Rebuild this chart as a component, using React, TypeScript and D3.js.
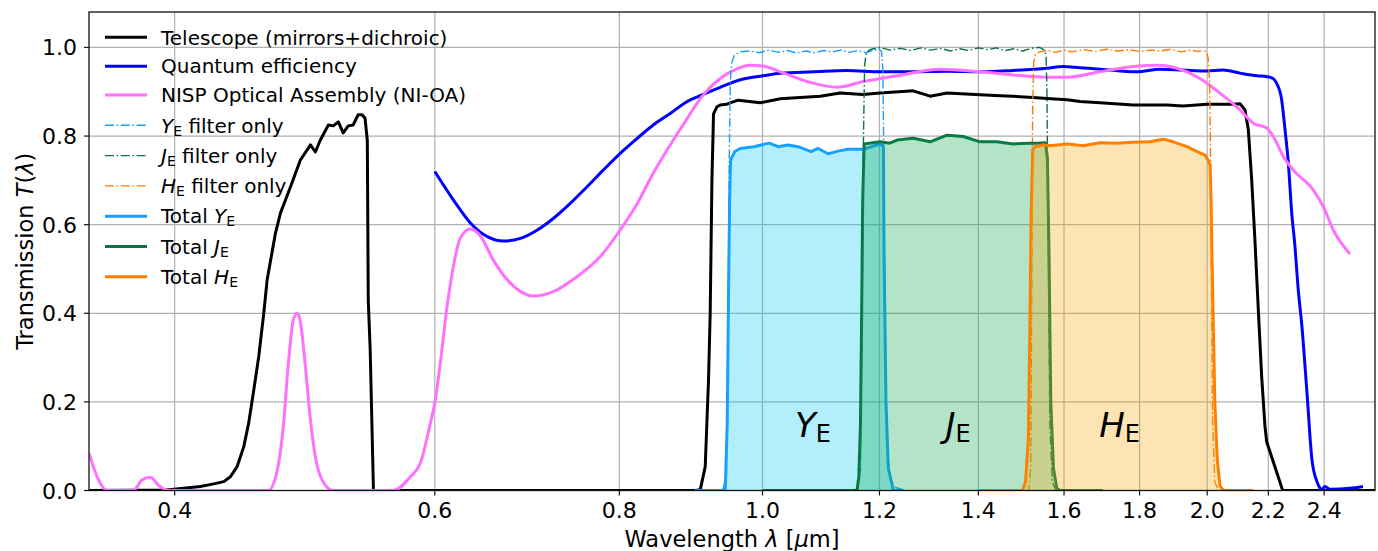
import React from "react";
import * as d3 from "d3";

// ---------- data (wavelength in µm, transmission) ----------
const telescopeLam = [0.35, 0.395, 0.4163, 0.4251, 0.4318, 0.4363, 0.4409, 0.4455, 0.4489, 0.4525, 0.456, 0.4596, 0.462, 0.468, 0.4717, 0.4791, 0.4866, 0.4943, 0.4981, 0.502, 0.5083, 0.5122, 0.5162, 0.5202, 0.5243, 0.5283, 0.5324, 0.5357, 0.5382, 0.5401, 0.5409, 0.5425, 0.5453, 0.9, 0.9076, 0.9146, 0.9193, 0.9217, 0.9242, 0.9265, 0.9314, 0.9362, 0.946, 0.9509, 0.9628, 0.9964, 1.028, 1.0605, 1.0941, 1.1287, 1.1695, 1.2013, 1.2647, 1.2986, 1.3335, 1.4038, 1.4483, 1.4774, 1.5247, 1.5583, 1.6076, 1.6405, 1.6925, 1.7818, 1.8787, 1.9261, 1.9995, 2.0821, 2.1049, 2.1215, 2.1325, 2.1438, 2.1549, 2.1658, 2.1773, 2.1886, 2.1944, 2.2499, 2.6];
const telescopeT = [0, 0.001, 0.009, 0.015, 0.02, 0.031, 0.054, 0.099, 0.152, 0.227, 0.302, 0.4, 0.475, 0.58, 0.626, 0.685, 0.746, 0.78, 0.764, 0.791, 0.825, 0.823, 0.832, 0.807, 0.823, 0.825, 0.848, 0.848, 0.84, 0.79, 0.43, 0.32, 0, 0, 0.002, 0.054, 0.25, 0.4, 0.7, 0.85, 0.866, 0.87, 0.872, 0.875, 0.881, 0.875, 0.884, 0.887, 0.89, 0.897, 0.894, 0.897, 0.902, 0.89, 0.897, 0.893, 0.891, 0.89, 0.887, 0.885, 0.882, 0.878, 0.875, 0.87, 0.87, 0.868, 0.872, 0.872, 0.873, 0.859, 0.814, 0.7, 0.56, 0.41, 0.257, 0.144, 0.11, 0, 0];

const qeLam = [0.6, 0.6176, 0.6342, 0.6512, 0.6676, 0.6856, 0.704, 0.7217, 0.7411, 0.761, 0.7802, 0.8011, 0.8227, 0.8434, 0.8661, 0.8893, 0.9117, 0.9362, 0.9659, 1.0011, 1.028, 1.0822, 1.1411, 1.2013, 1.2647, 1.3335, 1.4038, 1.4774, 1.5583, 1.5977, 1.6405, 1.6925, 1.7929, 1.8582, 1.9261, 1.9995, 2.05, 2.1049, 2.1615, 2.1955, 2.2162, 2.229, 2.2464, 2.2581, 2.2697, 2.2818, 2.2934, 2.3041, 2.3185, 2.3367, 2.3549, 2.3734, 2.3919, 2.4032, 2.4217, 2.4985, 2.5498];
const qeT = [0.72, 0.656, 0.604, 0.573, 0.563, 0.569, 0.588, 0.614, 0.648, 0.686, 0.723, 0.761, 0.795, 0.825, 0.851, 0.878, 0.894, 0.91, 0.927, 0.936, 0.942, 0.945, 0.948, 0.945, 0.945, 0.946, 0.945, 0.948, 0.953, 0.957, 0.954, 0.951, 0.945, 0.951, 0.949, 0.947, 0.949, 0.942, 0.936, 0.934, 0.93, 0.919, 0.881, 0.814, 0.739, 0.626, 0.55, 0.46, 0.369, 0.22, 0.069, 0.02, 0.003, 0.009, 0.003, 0.005, 0.009];

const nioaLam = [0.35, 0.3545, 0.3601, 0.3751, 0.3802, 0.3852, 0.39, 0.3955, 0.4629, 0.4694, 0.4738, 0.4776, 0.4813, 0.4841, 0.4866, 0.4904, 0.4943, 0.4981, 0.5033, 0.5122, 0.5625, 0.5776, 0.5867, 0.5959, 0.6, 0.6052, 0.6116, 0.6176, 0.6244, 0.6342, 0.6441, 0.6573, 0.675, 0.6996, 0.7217, 0.7492, 0.7766, 0.8011, 0.8227, 0.8434, 0.8661, 0.8893, 0.9117, 0.9362, 0.9614, 0.981, 1.0011, 1.028, 1.0721, 1.1234, 1.1695, 1.2335, 1.319, 1.4038, 1.4774, 1.5583, 1.6076, 1.6925, 1.7818, 1.8553, 1.9082, 1.9777, 2.0403, 2.1049, 2.149, 2.1944, 2.2173, 2.252, 2.2874, 2.3597, 2.3967, 2.4344, 2.4985];
const nioaT = [0.085, 0.031, 0, 0, 0.024, 0.03, 0.012, 0, 0, 0.046, 0.144, 0.288, 0.385, 0.4, 0.381, 0.28, 0.159, 0.076, 0.024, 0, 0, 0.031, 0.062, 0.152, 0.197, 0.288, 0.415, 0.505, 0.57, 0.59, 0.575, 0.52, 0.468, 0.439, 0.449, 0.483, 0.528, 0.588, 0.648, 0.716, 0.78, 0.84, 0.893, 0.93, 0.952, 0.96, 0.958, 0.945, 0.923, 0.91, 0.923, 0.936, 0.951, 0.945, 0.938, 0.933, 0.933, 0.945, 0.957, 0.96, 0.953, 0.93, 0.897, 0.859, 0.829, 0.818, 0.799, 0.754, 0.723, 0.678, 0.641, 0.588, 0.534];

const yFilterLam = [0.9, 0.945, 0.9475, 0.9495, 0.951, 0.953, 0.957, 0.965, 0.98, 0.995, 1.01, 1.025, 1.04, 1.055, 1.07, 1.085, 1.1, 1.115, 1.13, 1.145, 1.16, 1.175, 1.19, 1.2, 1.204, 1.2065, 1.2085, 1.211, 1.215, 1.222, 1.25];
const yFilterT = [0, 0, 0.3, 0.75, 0.92, 0.965, 0.982, 0.99, 0.992, 0.988, 0.994, 0.989, 0.993, 0.987, 0.992, 0.988, 0.993, 0.99, 0.994, 0.989, 0.993, 0.988, 0.994, 0.996, 0.99, 0.95, 0.7, 0.3, 0.08, 0.01, 0];

const jFilterLam = [1.1, 1.16, 1.165, 1.168, 1.1705, 1.1725, 1.176, 1.185, 1.2, 1.22, 1.24, 1.26, 1.28, 1.3, 1.32, 1.34, 1.36, 1.38, 1.4, 1.42, 1.44, 1.46, 1.48, 1.5, 1.52, 1.54, 1.552, 1.556, 1.558, 1.561, 1.565, 1.571, 1.58, 1.7];
const jFilterT = [0, 0, 0.05, 0.4, 0.8, 0.96, 0.99, 0.996, 1.0, 0.994, 0.998, 0.993, 0.999, 0.994, 0.998, 0.992, 0.997, 0.993, 0.999, 0.995, 0.999, 0.993, 0.997, 0.992, 0.998, 1.0, 0.994, 0.98, 0.9, 0.55, 0.15, 0.02, 0, 0];

const hFilterLam = [1.4, 1.515, 1.519, 1.5215, 1.5235, 1.526, 1.53, 1.54, 1.56, 1.58, 1.6, 1.62, 1.65, 1.68, 1.71, 1.74, 1.77, 1.8, 1.83, 1.86, 1.89, 1.92, 1.95, 1.97, 1.99, 1.998, 2.003, 2.007, 2.01, 2.013, 2.017, 2.024, 2.035, 2.15];
const hFilterT = [0, 0, 0.05, 0.45, 0.85, 0.965, 0.985, 0.99, 0.993, 0.989, 0.994, 0.99, 0.995, 0.991, 0.996, 0.992, 0.995, 0.991, 0.994, 0.992, 0.996, 0.99, 0.994, 0.991, 0.993, 0.99, 0.975, 0.93, 0.8, 0.5, 0.15, 0.02, 0, 0];

const yTotalLam = [0.9, 0.9411, 0.944, 0.9465, 0.9485, 0.95, 0.9515, 0.9578, 0.9659, 0.9867, 1.0104, 1.0246, 1.0406, 1.057, 1.0787, 1.0905, 1.1076, 1.1251, 1.1427, 1.1696, 1.2013, 1.2074, 1.2085, 1.2122, 1.2166, 1.2265, 1.2456];
const yTotalT = [0, 0, 0.02, 0.15, 0.45, 0.65, 0.746, 0.765, 0.772, 0.776, 0.784, 0.776, 0.78, 0.776, 0.765, 0.772, 0.76, 0.766, 0.77, 0.77, 0.782, 0.776, 0.54, 0.2, 0.05, 0, 0];

const jTotalLam = [1.0, 1.1586, 1.162, 1.165, 1.1672, 1.169, 1.1717, 1.2013, 1.2191, 1.2335, 1.2647, 1.2986, 1.3335, 1.3671, 1.4038, 1.441, 1.4774, 1.5183, 1.5343, 1.554, 1.559, 1.5629, 1.5673, 1.5738, 1.582, 1.59, 1.7];
const jTotalT = [0, 0, 0.03, 0.15, 0.4, 0.65, 0.782, 0.787, 0.784, 0.791, 0.795, 0.787, 0.802, 0.799, 0.787, 0.787, 0.782, 0.784, 0.784, 0.785, 0.75, 0.54, 0.2, 0.05, 0.005, 0, 0];

const hTotalLam = [1.4, 1.5, 1.507, 1.5137, 1.5176, 1.52, 1.524, 1.53, 1.5487, 1.5656, 1.6076, 1.6482, 1.6925, 1.738, 1.7818, 1.8296, 1.8671, 1.8964, 1.9381, 1.9686, 1.9933, 2.0026, 2.0089, 2.012, 2.0152, 2.0239, 2.0315, 2.0405, 2.0518, 2.149];
const hTotalT = [0, 0, 0.02, 0.12, 0.4, 0.62, 0.77, 0.776, 0.78, 0.778, 0.782, 0.778, 0.785, 0.784, 0.786, 0.787, 0.793, 0.787, 0.776, 0.765, 0.757, 0.746, 0.735, 0.66, 0.52, 0.2, 0.07, 0.01, 0, 0];

const xTicks = [0.4, 0.6, 0.8, 1.0, 1.2, 1.4, 1.6, 1.8, 2.0, 2.2, 2.4];
const yTicks = [0, 0.2, 0.4, 0.6, 0.8, 1.0];

const bandNames = ["Y", "J", "H"];
const bandLabelLam = [1.052, 1.33, 1.69];
const bandLabelT = 0.12;

// ---------- styling ----------
const COL = {
  tel: "#000000",
  qe: "#0000ff",
  nioa: "#ff70ff",
  Y: "#1a9cff",
  J: "#0b7443",
  H: "#ff7a00",
  Yfill: "#00c8f5",
  Jfill: "#05a548",
  Hfill: "#f8a505",
};

const FONT = "DejaVu Sans";
const zip = (a: number[], b: number[]) => a.map((v, i) => [v, b[i]] as [number, number]);

export default function App() {
  const W = 1378, H = 551;
  const L = 89, R = 1375, T = 12, B = 490.5;
  const x = d3.scaleLog().domain([0.35, 2.598]).range([L, R]);
  const y = d3.scaleLinear().domain([0, 1.08]).range([B, T]);
  const line = d3.line<[number, number]>().x((d) => x(d[0])).y((d) => y(d[1]));
  const smooth = d3.line<[number, number]>().x((d) => x(d[0])).y((d) => y(d[1])).curve(d3.curveMonotoneX);
  const area = d3.area<[number, number]>().x((d) => x(d[0])).y0(y(0)).y1((d) => y(d[1]));

  const dash = "9,2.6,1.6,2.6";
  const lw = 3;

  const legend = [
    { label: [{ t: "Telescope (mirrors+dichroic)" }], color: COL.tel, dash: false, sub: false },
    { label: [{ t: "Quantum efficiency" }], color: COL.qe, dash: false, sub: false },
    { label: [{ t: "NISP Optical Assembly (NI-OA)" }], color: COL.nioa, dash: false, sub: false },
    { label: [{ t: "Y", i: true }, { t: "E", s: true }, { t: " filter only" }], color: COL.Y, dash: true, sub: true },
    { label: [{ t: "J", i: true }, { t: "E", s: true }, { t: " filter only" }], color: COL.J, dash: true, sub: true },
    { label: [{ t: "H", i: true }, { t: "E", s: true }, { t: " filter only" }], color: COL.H, dash: true, sub: true },
    { label: [{ t: "Total " }, { t: "Y", i: true }, { t: "E", s: true }], color: COL.Y, dash: false, sub: true },
    { label: [{ t: "Total " }, { t: "J", i: true }, { t: "E", s: true }], color: COL.J, dash: false, sub: true },
    { label: [{ t: "Total " }, { t: "H", i: true }, { t: "E", s: true }], color: COL.H, dash: false, sub: true },
  ];
  const rowYs: number[] = [];
  legend.forEach((it, i) => {
    if (i === 0) rowYs.push(37.3);
    else {
      const step = it.sub || legend[i - 1].sub ? 30.3 : 28.85;
      rowYs.push(rowYs[i - 1] + step);
    }
  });

  const totals = [
    { d: zip(yTotalLam, yTotalT), c: COL.Y, f: COL.Yfill },
    { d: zip(jTotalLam, jTotalT), c: COL.J, f: COL.Jfill },
    { d: zip(hTotalLam, hTotalT), c: COL.H, f: COL.Hfill },
  ];
  const filters = [
    { d: zip(yFilterLam, yFilterT), c: COL.Y },
    { d: zip(jFilterLam, jFilterT), c: COL.J },
    { d: zip(hFilterLam, hFilterT), c: COL.H },
  ];

  return (
    <svg width={W} height={H} style={{ position: "absolute", left: 0, top: 0, background: "#fff" }} fontFamily={FONT}>
      <defs>
        <clipPath id="plotclip">
          <rect x={L} y={T} width={R - L} height={B - T} />
        </clipPath>
      </defs>
      <rect x={0} y={0} width={W} height={H} fill="#fff" />
      {/* grid */}
      <g stroke="#b0b0b0" strokeWidth={1.2}>
        {xTicks.map((t) => (
          <line key={"gx" + t} x1={x(t)} x2={x(t)} y1={T} y2={B} />
        ))}
        {yTicks.map((t) => (
          <line key={"gy" + t} x1={L} x2={R} y1={y(t)} y2={y(t)} />
        ))}
      </g>
      <g clipPath="url(#plotclip)" fill="none" strokeLinejoin="round">
        <path d={line(zip(telescopeLam, telescopeT))!} stroke={COL.tel} strokeWidth={lw} />
        <path d={smooth(zip(qeLam, qeT))!} stroke={COL.qe} strokeWidth={lw} />
        <path d={smooth(zip(nioaLam, nioaT))!} stroke={COL.nioa} strokeWidth={lw} />
        {filters.map((f, i) => (
          <path key={"f" + i} d={line(f.d)!} stroke={f.c} strokeWidth={1.4} strokeDasharray={dash} />
        ))}
        {totals.map((s, i) => (
          <g key={"t" + i}>
            <path d={line(s.d)!} stroke={s.c} strokeWidth={lw} />
            <path d={area(s.d)!} fill={s.f} fillOpacity={0.3} stroke="none" />
          </g>
        ))}
      </g>
      {/* band labels */}
      {bandNames.map((n, i) => (
        <text key={"bl" + n} x={x(bandLabelLam[i])} y={y(bandLabelT)} fontSize={34} fill="#000">
          <tspan fontStyle="italic">{n}</tspan>
          <tspan fontSize={24} dy={4.4}>E</tspan>
        </text>
      ))}
      {/* axes frame */}
      <rect x={L} y={T} width={R - L} height={B - T} fill="none" stroke="#111" strokeWidth={1.3} />
      {/* ticks */}
      <g stroke="#111" strokeWidth={1.2}>
        {xTicks.map((t) => (
          <line key={"tx" + t} x1={x(t)} x2={x(t)} y1={B} y2={B + 5} />
        ))}
        {yTicks.map((t) => (
          <line key={"ty" + t} x1={L - 5} x2={L} y1={y(t)} y2={y(t)} />
        ))}
      </g>
      <g fontSize={22} fill="#000">
        {xTicks.map((t) => (
          <text key={"lx" + t} x={x(t)} y={B + 27} textAnchor="middle">
            {t.toFixed(1)}
          </text>
        ))}
        {yTicks.map((t) => (
          <text key={"ly" + t} x={L - 12} y={y(t) + 8} textAnchor="end">
            {t.toFixed(1)}
          </text>
        ))}
      </g>
      {/* axis labels */}
      <text x={(L + R) / 2} y={546.5} fontSize={22.5} textAnchor="middle">
        Wavelength <tspan fontStyle="italic">λ</tspan> [<tspan fontStyle="italic">µ</tspan>m]
      </text>
      <text transform={`translate(33,${(T + B) / 2}) rotate(-90)`} fontSize={22.5} textAnchor="middle">
        Transmission <tspan fontStyle="italic">T</tspan>(<tspan fontStyle="italic">λ</tspan>)
      </text>
      {/* legend */}
      <g>
        {legend.map((it, i) => (
          <g key={"lg" + i}>
            <line
              x1={105}
              x2={147}
              y1={rowYs[i]}
              y2={rowYs[i]}
              stroke={it.color}
              strokeWidth={it.dash ? 1.4 : lw}
              strokeDasharray={it.dash ? dash : undefined}
            />
            <text x={161} y={rowYs[i] + 7.2} fontSize={20} fill="#000">
              {it.label.map((p: any, j: number) => (
                <tspan
                  key={j}
                  fontStyle={p.i ? "italic" : undefined}
                  fontSize={p.s ? 14 : undefined}
                  dy={p.s ? 3 : j > 0 && it.label[j - 1] && (it.label[j - 1] as any).s ? -3 : undefined}
                >
                  {p.t}
                </tspan>
              ))}
            </text>
          </g>
        ))}
      </g>
    </svg>
  );
}
